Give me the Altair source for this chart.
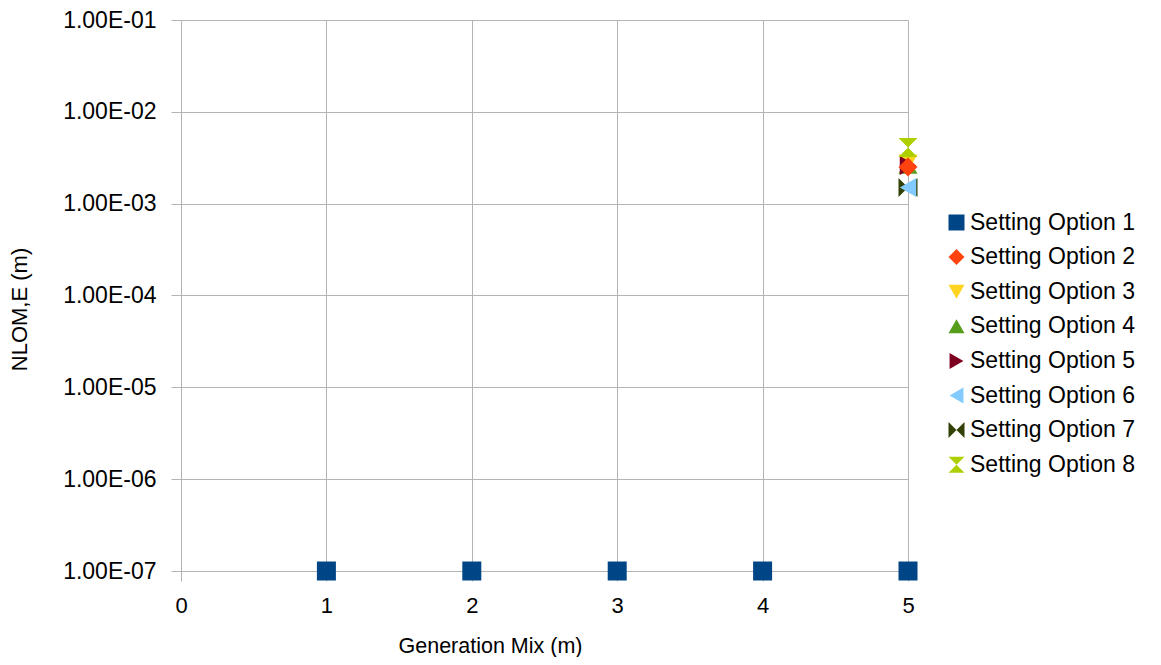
import altair as alt
import pandas as pd

series = ["Setting Option 1", "Setting Option 2", "Setting Option 3", "Setting Option 4",
          "Setting Option 5", "Setting Option 6", "Setting Option 7", "Setting Option 8"]
colors = ["#004586", "#ff420e", "#ffd320", "#579d1c", "#7e0021", "#83caff", "#314004", "#aecf00"]
shapes = ["square", "diamond", "triangle-down", "triangle-up", "triangle-right", "triangle-left",
          "M-1,-1L0,0L-1,1Z M1,-1L0,0L1,1Z", "M-1,-1L1,-1L0,0Z M-1,1L1,1L0,0Z"]

opt1_x = [1, 2, 3, 4, 5]
opt1_y = [1e-7, 1e-7, 1e-7, 1e-7, 1e-7]
others_x = [5, 5, 5, 5, 5, 5, 5]
others_y = [2.5e-3, 2.8e-3, 2.6e-3, 2.6e-3, 1.5e-3, 1.5e-3, 4.1e-3]

rows = []
for x, y in zip(opt1_x, opt1_y):
    rows.append({"series": series[0], "x": x, "y": y})
draw_order = [2, 3, 4, 1, 6, 5, 7]  # indices into series (others)
for i in draw_order:
    rows.append({"series": series[i], "x": others_x[i - 1], "y": others_y[i - 1]})
df = pd.DataFrame(rows)

font = "Liberation Sans"

chart = alt.Chart(df).mark_point(filled=True, opacity=1, size=361).encode(
    x=alt.X("x:Q", title="Generation Mix (m)",
            scale=alt.Scale(domain=[0, 5], nice=False),
            axis=alt.Axis(values=[0, 1, 2, 3, 4, 5], format="d", labelFontSize=22,
                          titleFontSize=21.5, labelPadding=14, titlePadding=19, tickSize=10,
                          titleX=309, labelFlush=False)),
    y=alt.Y("y:Q", title="NLOM,E (m)",
            scale=alt.Scale(type="log", domain=[1e-7, 1e-1], nice=False),
            axis=alt.Axis(values=[1e-7, 1e-6, 1e-5, 1e-4, 1e-3, 1e-2, 1e-1],
                          labelExpr="'1.00E-0' + toString(round(-log(datum.value)/LN10))",
                          labelFontSize=23, titleFontSize=22, labelPadding=15, tickSize=10,
                          titlePadding=31, titleY=289, labelFlush=False)),
    color=alt.Color("series:N", title=None,
                    scale=alt.Scale(domain=series, range=colors),
                    legend=alt.Legend(orient="none", legendX=764, legendY=191,
                                      labelFontSize=23, symbolSize=256, rowPadding=10.6,
                                      labelOffset=2, labelLimit=400, symbolOpacity=1)),
    shape=alt.Shape("series:N", scale=alt.Scale(domain=series, range=shapes), legend=None),
).properties(
    width=727, height=551,
    padding={"left": 173, "top": 12, "right": 245, "bottom": 86},
    autosize=alt.AutoSizeParams(type="none"),
).configure_axis(
    labelFont=font, titleFont=font, labelColor="#000000", titleColor="#000000",
    gridColor="#b3b3b3", domainColor="#b3b3b3", tickColor="#b3b3b3",
    titleFontWeight="normal",
).configure_legend(
    labelFont=font, labelColor="#000000",
).configure_view(stroke=None)

chart.save("out.html", embed_options={"renderer": "svg", "actions": False})
